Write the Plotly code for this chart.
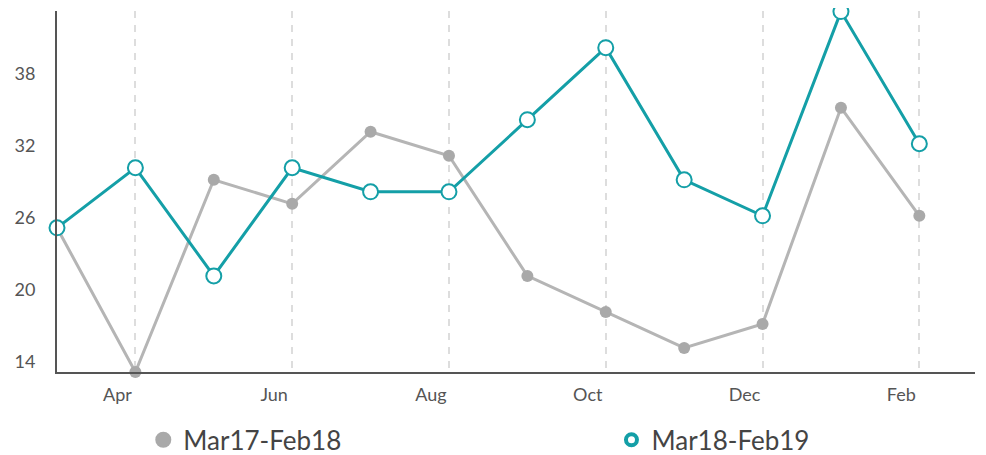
import plotly.graph_objects as go

months = ["Mar", "Apr", "May", "Jun", "Jul", "Aug", "Sep", "Oct", "Nov", "Dec", "Jan", "Feb"]
series_a_name = "Mar17-Feb18"
series_b_name = "Mar18-Feb19"
series_a = [25, 13, 29, 27, 33, 31, 21, 18, 15, 17, 35, 26]
series_b = [25, 30, 21, 30, 28, 28, 34, 40, 29, 26, 43, 32]
x_tick_labels = ["Apr", "Jun", "Aug", "Oct", "Dec", "Feb"]
y_ticks = [14, 20, 26, 32, 38]

GRAY = "#b5b5b5"
GRAY_MARK = "#a9a9a9"
TEAL = "#149fa7"

idx = list(range(len(months)))
tick_idx = [months.index(m) for m in x_tick_labels]

fig = go.Figure()
fig.add_trace(go.Scatter(
    x=idx, y=series_a, mode="lines+markers", showlegend=False,
    line=dict(color=GRAY, width=3),
    marker=dict(color=GRAY_MARK, size=12),
    name=series_a_name, cliponaxis=False,
))
fig.add_trace(go.Scatter(
    x=idx, y=series_b, mode="lines+markers", showlegend=False,
    line=dict(color=TEAL, width=3),
    marker=dict(color="white", size=15, line=dict(color=TEAL, width=2)),
    name=series_b_name, cliponaxis=False,
))
# legend entries (markers only)
fig.add_trace(go.Scatter(
    x=[None], y=[None], mode="markers", name=series_a_name, legend="legend",
    marker=dict(color=GRAY_MARK, size=16),
))
fig.add_trace(go.Scatter(
    x=[None], y=[None], mode="markers", name=series_b_name, legend="legend2",
    marker=dict(color="white", size=11, line=dict(color=TEAL, width=4)),
))

legend_common = dict(
    orientation="h", yanchor="middle", y=-0.188, xanchor="left",
    font=dict(size=26, color="#444444"), bgcolor="rgba(0,0,0,0)",
)

fig.update_layout(
    width=978, height=447,
    margin=dict(l=49, r=11, t=3, b=83, autoexpand=False),
    paper_bgcolor="white", plot_bgcolor="white",
    font=dict(family="Lato", color="#555555", size=18),
    legend=dict(x=0.094, **legend_common),
    legend2=dict(x=0.604, **legend_common),
    xaxis=dict(
        range=[0, 11.71], tickvals=tick_idx, ticktext=x_tick_labels,
        showgrid=True, gridcolor="#dddddd", gridwidth=2, griddash="7px,7px",
        showline=True, linecolor="#555555", linewidth=2,
        zeroline=False, ticks="", ticklabelshift=-18, ticklabelstandoff=5,
        tickfont=dict(size=18, color="#555555"), automargin=False,
    ),
    yaxis=dict(
        range=[13, 43.05], tickvals=y_ticks,
        showgrid=False, showline=True, linecolor="#555555", linewidth=2,
        zeroline=False, ticks="", ticklabelstandoff=16, ticklabelshift=2,
        tickfont=dict(size=18, color="#555555"), automargin=False,
    ),
)

fig.write_html("out.html")
